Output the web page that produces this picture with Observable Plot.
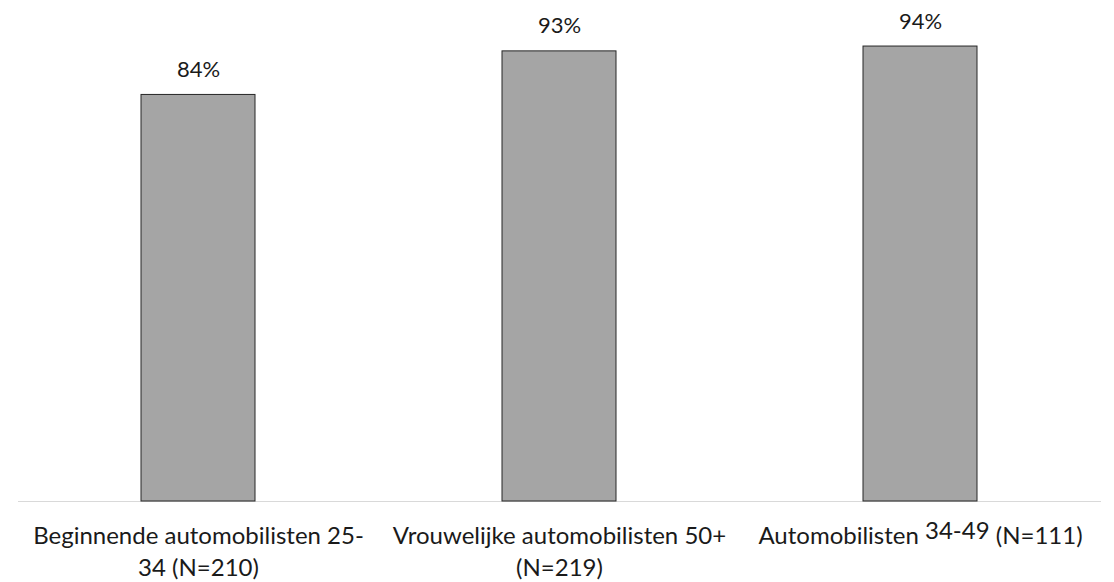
<!DOCTYPE html>
<html>
<head>
<meta charset="utf-8">
<script src="https://cdn.jsdelivr.net/npm/d3@7"></script>
<script src="https://cdn.jsdelivr.net/npm/@observablehq/plot@0.6"></script>
<style>
  html, body { margin: 0; padding: 0; background: #fff; }
  #chart svg { display: block; }
</style>
</head>
<body>
<div id="chart"></div>
<script>
// Groups and their share (%)
const groups = [
  "Beginnende automobilisten 25-\n34 (N=210)",
  "Vrouwelijke automobilisten 50+\n(N=219)",
  "Automobilisten 34-49 (N=111)"
];
const shares = [84, 93, 94];

const rows = groups.map((g, i) => ({group: g, share: shares[i]}));

const font = "Lato, 'Open Sans', sans-serif";

const chart = Plot.plot({
  width: 1114,
  height: 582,
  marginTop: 17,
  marginBottom: 81,
  marginLeft: 18,
  marginRight: 13,
  style: {fontFamily: font, color: "#1a1a1a", background: "#fff"},
  x: {domain: groups, paddingInner: 0.684, paddingOuter: 0.342, axis: null},
  y: {domain: [0, 100], axis: null},
  marks: [
    Plot.ruleY([0], {stroke: "#d9d9d9", strokeWidth: 1.2}),
    Plot.barY(rows, {x: "group", y: "share", fill: "#a5a5a5", stroke: "#262626", strokeWidth: 1}),
    Plot.text(rows, {
      x: "group", y: "share", text: d => d.share + "%",
      lineAnchor: "bottom", dy: -18, fontSize: 22, fill: "#1a1a1a"
    }),
    Plot.axisX({
      domain: groups, tickSize: 0, tickPadding: 20, fontSize: 24,
      lineHeight: 1.33, label: null, fill: "#1a1a1a"
    })
  ]
});

// Raise the age range in the last label a little above the rest of the line
d3.select(chart).selectAll("text").each(function() {
  const t = d3.select(this);
  if (this.textContent === "Automobilisten 34-49 (N=111)") {
    t.text(null);
    t.append("tspan").text("Automobilisten ");
    t.append("tspan").attr("dy", -5).text("34-49");
    t.append("tspan").attr("dy", 5).text(" (N=111)");
  }
});

document.getElementById("chart").append(chart);
</script>
</body>
</html>
